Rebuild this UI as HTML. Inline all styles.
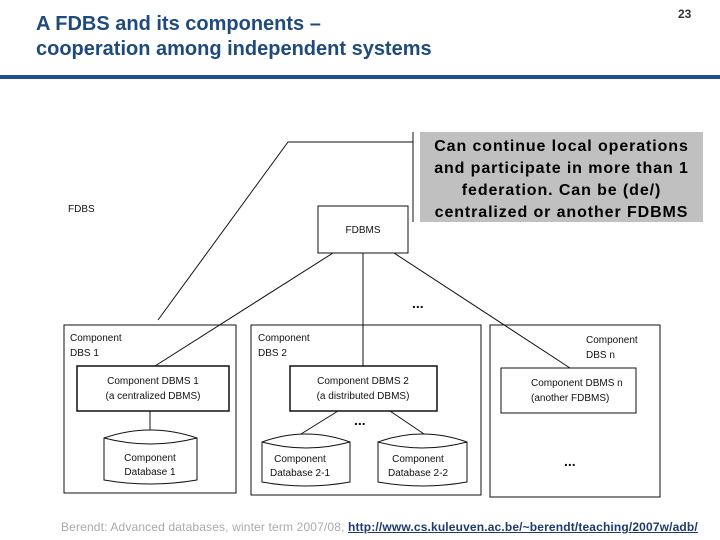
<!DOCTYPE html>
<html><head><meta charset="utf-8"><style>
body{margin:0;width:720px;height:540px;background:#fff;overflow:hidden;position:relative;font-family:"Liberation Sans",sans-serif}
.t{position:absolute;left:36px;top:12px;color:#1f4a7c;font-size:20px;line-height:25px;font-weight:bold}
.n{position:absolute;left:678px;top:7px;font-size:12px;font-weight:bold;color:#333}
.bar{position:absolute;left:0;top:75px;width:720px;height:4px;background:#1f4e8c}
.call{position:absolute;left:420px;top:132px;width:283px;height:90px;background:#c0c0c0;font-weight:bold;font-size:16px;letter-spacing:0.9px;line-height:22px;text-align:center;color:#000;padding-top:4px;box-sizing:border-box;white-space:nowrap}
.f{position:absolute;left:61px;top:520px;font-size:12px;color:#aaa;white-space:nowrap;letter-spacing:0.15px}
.f a{color:#1f3a6e;font-weight:bold;text-decoration:underline}
</style></head><body>
<div class="t">A FDBS and its components –<br>cooperation among independent systems</div>
<div class="n">23</div>
<div class="bar"></div>
<svg width="720" height="540" style="position:absolute;left:0;top:0" font-family="Liberation Sans,sans-serif" font-size="10" fill="none" stroke="#111" stroke-width="1">
<polyline points="413,142 288,142 158,320"/>
<line x1="413" y1="132" x2="413" y2="222"/>
<text x="68" y="212" fill="#111" stroke="none">FDBS</text>
<rect x="318" y="206" width="90" height="47"/>
<text x="363" y="233" fill="#111" stroke="none" text-anchor="middle">FDBMS</text>
<line x1="333" y1="253" x2="155" y2="366"/>
<line x1="363" y1="253" x2="363" y2="366"/>
<line x1="394" y1="253" x2="570" y2="368"/>
<text x="412" y="308" fill="#111" stroke="none" font-size="14" font-weight="bold">...</text>
<rect x="64" y="325" width="172" height="168"/>
<text x="70" y="341" fill="#111" stroke="none">Component</text><text x="70" y="356" fill="#111" stroke="none">DBS 1</text>
<rect x="77" y="366" width="152" height="45" stroke-width="1.5"/>
<text x="153" y="384" fill="#111" stroke="none" text-anchor="middle">Component DBMS 1</text>
<text x="153" y="399" fill="#111" stroke="none" text-anchor="middle">(a centralized DBMS)</text>
<line x1="150" y1="411" x2="150" y2="430"/>
<path d="M104,438 Q150,422 197,438 V480 Q150,488 104,480 Z M104,438 Q150,450 197,438"/>
<text x="150" y="461" fill="#111" stroke="none" text-anchor="middle">Component</text>
<text x="150" y="475" fill="#111" stroke="none" text-anchor="middle">Database 1</text>
<rect x="251" y="325" width="230" height="170"/>
<text x="258" y="341" fill="#111" stroke="none">Component</text><text x="258" y="356" fill="#111" stroke="none">DBS 2</text>
<rect x="290" y="366" width="147" height="45" stroke-width="1.5"/>
<text x="363" y="384" fill="#111" stroke="none" text-anchor="middle">Component DBMS 2</text>
<text x="363" y="399" fill="#111" stroke="none" text-anchor="middle">(a distributed DBMS)</text>
<line x1="338" y1="411" x2="301" y2="434"/>
<line x1="390" y1="411" x2="424" y2="434"/>
<text x="354" y="425" fill="#111" stroke="none" font-size="14" font-weight="bold">...</text>
<path d="M262,442 Q306,426 350,442 V482 Q306,490 262,482 Z M262,442 Q306,454 350,442"/>
<text x="300" y="462" fill="#111" stroke="none" text-anchor="middle">Component</text>
<text x="300" y="476" fill="#111" stroke="none" text-anchor="middle">Database 2-1</text>
<path d="M378,442 Q422,426 467,442 V482 Q422,490 378,482 Z M378,442 Q422,454 467,442"/>
<text x="418" y="462" fill="#111" stroke="none" text-anchor="middle">Component</text>
<text x="418" y="476" fill="#111" stroke="none" text-anchor="middle">Database 2-2</text>
<rect x="490" y="325" width="170" height="172"/>
<text x="586" y="343" fill="#111" stroke="none">Component</text><text x="586" y="358" fill="#111" stroke="none">DBS n</text>
<rect x="501" y="368" width="135" height="45"/>
<text x="531" y="386" fill="#111" stroke="none">Component DBMS n</text>
<text x="531" y="401" fill="#111" stroke="none">(another FDBMS)</text>
<text x="564" y="466" fill="#111" stroke="none" font-size="14" font-weight="bold">...</text>
</svg>
<div class="call">Can continue local operations<br>and participate in more than 1<br>federation. Can be (de/)<br>centralized or another FDBMS</div>
<div class="f">Berendt: Advanced databases, winter term 2007/08, <a>http://www.cs.kuleuven.ac.be/~berendt/teaching/2007w/adb/</a></div>
</body></html>
